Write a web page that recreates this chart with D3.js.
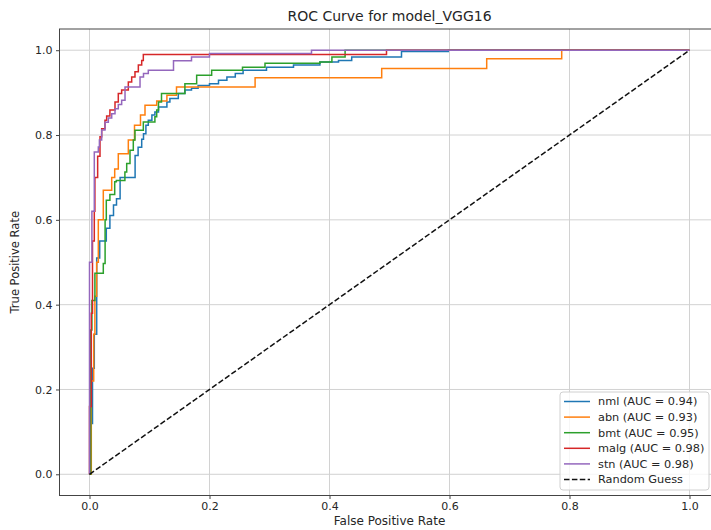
<!DOCTYPE html>
<html>
<head>
<meta charset="utf-8">
<script src="https://cdn.jsdelivr.net/npm/d3@7"></script>
<style>
  body { margin: 0; background: #fff; }
  svg { display: block; font-family: "DejaVu Sans", sans-serif; }
</style>
</head>
<body>
<div class="roc-plot"></div>
<script>
// step points: [fpr, tpr] where the curve jumps up to tpr
const nml = [[0, 0], [0.002, 0.12], [0.005, 0.25], [0.008, 0.33], [0.012, 0.51], [0.017, 0.55], [0.028, 0.58],
    [0.034, 0.61], [0.04, 0.635], [0.045, 0.65], [0.051, 0.70], [0.076, 0.752], [0.081, 0.771], [0.087, 0.79],
    [0.09, 0.803], [0.094, 0.823], [0.098, 0.835], [0.104, 0.847], [0.109, 0.854], [0.115, 0.866], [0.129, 0.878],
    [0.134, 0.886], [0.148, 0.898], [0.159, 0.906], [0.17, 0.91], [0.181, 0.917], [0.2, 0.921], [0.215, 0.929],
    [0.229, 0.937], [0.243, 0.945], [0.256, 0.953], [0.295, 0.96], [0.34, 0.965], [0.384, 0.972], [0.415, 0.976],
    [0.437, 0.984], [0.52, 0.997], [0.598, 1.0], [1.0, 1.0]];
const abn = [[0, 0], [0.003, 0.22], [0.007, 0.33], [0.009, 0.42], [0.012, 0.50], [0.0147, 0.60], [0.023, 0.67],
    [0.037, 0.70], [0.042, 0.72], [0.048, 0.756], [0.0647, 0.788], [0.075, 0.823], [0.085, 0.847], [0.0925, 0.870],
    [0.112, 0.88], [0.129, 0.894], [0.145, 0.913], [0.276, 0.935], [0.487, 0.957], [0.662, 0.98], [0.787, 1.0],
    [1.0, 1.0]];
const bmt = [[0, 0], [0.002, 0.34], [0.004, 0.41], [0.009, 0.474], [0.023, 0.497], [0.026, 0.60], [0.028, 0.646],
    [0.034, 0.66], [0.042, 0.69], [0.0447, 0.693], [0.059, 0.713], [0.062, 0.733], [0.0675, 0.764], [0.073, 0.788],
    [0.0758, 0.811], [0.0897, 0.831], [0.109, 0.843], [0.112, 0.859], [0.115, 0.878], [0.12, 0.898], [0.159, 0.921],
    [0.1786, 0.941], [0.2036, 0.953], [0.255, 0.96], [0.2925, 0.969], [0.384, 0.972], [0.404, 0.984],
    [0.426, 1.0], [1.0, 1.0]];
const malg = [[0, 0], [0, 0.16], [0.003, 0.38], [0.005, 0.55], [0.008, 0.62], [0.009, 0.70], [0.0136, 0.75],
    [0.0175, 0.796], [0.0203, 0.815], [0.0258, 0.835], [0.0286, 0.845], [0.034, 0.859], [0.0425, 0.878],
    [0.048, 0.898], [0.0536, 0.906], [0.0647, 0.925], [0.0703, 0.937], [0.0758, 0.949], [0.0814, 0.965],
    [0.087, 0.976], [0.0897, 0.99], [0.495, 1.0], [1.0, 1.0]];
const stn = [[0, 0], [0, 0.5], [0.004, 0.62], [0.008, 0.76], [0.0147, 0.772], [0.0165, 0.788], [0.0203, 0.812],
    [0.0258, 0.83], [0.0314, 0.84], [0.037, 0.85], [0.0425, 0.862], [0.048, 0.872], [0.0536, 0.882],
    [0.0592, 0.913], [0.0842, 0.937], [0.09, 0.945], [0.098, 0.953], [0.14, 0.975], [0.17, 0.984],
    [0.2, 0.992], [0.37, 1.0], [1.0, 1.0]];
const guess = [[0, 0], [1, 1]];

const classNames = ['nml', 'abn', 'bmt', 'malg', 'stn'];
const aucValues = [0.94, 0.93, 0.95, 0.98, 0.98];
const tickValues = [0, 0.2, 0.4, 0.6, 0.8, 1.0];
const colors = ['#1f77b4', '#ff7f0e', '#2ca02c', '#d62728', '#9467bd'];

const curves = [nml, abn, bmt, malg, stn];

const width = 711;
const height = 530;
const plotLeft = 59.5, plotRight = 719.5, plotTop = 29, plotBottom = 495.5;

const x = d3.scaleLinear().domain([-0.05, 1.05]).range([plotLeft, plotRight]);
const y = d3.scaleLinear().domain([-0.05, 1.05]).range([plotBottom, plotTop]);

const svg = d3.select('.roc-plot')
    .append('svg')
    .attr('width', width)
    .attr('height', height);

// grid
svg.append('g')
    .selectAll('line')
    .data(tickValues)
    .enter()
    .append('line')
    .attr('x1', d => x(d)).attr('x2', d => x(d))
    .attr('y1', plotTop).attr('y2', plotBottom)
    .attr('stroke', '#d2d2d2').attr('stroke-width', 1);
svg.append('g')
    .selectAll('line')
    .data(tickValues)
    .enter()
    .append('line')
    .attr('x1', plotLeft).attr('x2', plotRight)
    .attr('y1', d => y(d)).attr('y2', d => y(d))
    .attr('stroke', '#d2d2d2').attr('stroke-width', 1);

const line = d3.line()
    .x(d => x(d[0]))
    .y(d => y(d[1]))
    .curve(d3.curveStepAfter);

svg.append('g')
    .selectAll('path')
    .data(curves)
    .enter()
    .append('path')
    .attr('d', d => line(d))
    .attr('fill', 'none')
    .attr('stroke', (d, i) => colors[i])
    .attr('stroke-width', 1.5);

svg.append('path')
    .attr('d', d3.line().x(d => x(d[0])).y(d => y(d[1]))(guess))
    .attr('fill', 'none')
    .attr('stroke', '#111')
    .attr('stroke-width', 1.5)
    .attr('stroke-dasharray', '5.5,2.4');

// spines
svg.append('rect')
    .attr('x', plotLeft).attr('y', plotTop)
    .attr('width', plotRight - plotLeft).attr('height', plotBottom - plotTop)
    .attr('fill', 'none').attr('stroke', '#444').attr('stroke-width', 1);

const fmt = d3.format('.1f');
const xAxis = svg.append('g')
    .attr('transform', `translate(0,${plotBottom})`)
    .call(d3.axisBottom(x).tickValues(tickValues).tickFormat(fmt).tickSize(3.5).tickPadding(3.5));
const yAxis = svg.append('g')
    .attr('transform', `translate(${plotLeft},0)`)
    .call(d3.axisLeft(y).tickValues(tickValues).tickFormat(fmt).tickSize(3.5).tickPadding(3.5));
[xAxis, yAxis].forEach(a => {
    a.select('.domain').remove();
    a.selectAll('line').attr('stroke', '#444');
    a.selectAll('text')
        .attr('fill', '#262626')
        .attr('font-size', 11)
        .attr('font-family', '"DejaVu Sans", sans-serif');
});

svg.append('text')
    .attr('x', (plotLeft + plotRight) / 2)
    .attr('y', 21)
    .attr('text-anchor', 'middle')
    .attr('font-size', 14)
    .attr('fill', '#262626')
    .text('ROC Curve for model_VGG16');

svg.append('text')
    .attr('x', (plotLeft + plotRight) / 2)
    .attr('y', 525)
    .attr('text-anchor', 'middle')
    .attr('font-size', 12)
    .attr('fill', '#262626')
    .text('False Positive Rate');

svg.append('text')
    .attr('transform', `translate(19,${(plotTop + plotBottom) / 2}) rotate(-90)`)
    .attr('text-anchor', 'middle')
    .attr('font-size', 11.5)
    .attr('fill', '#262626')
    .text('True Positive Rate');

// legend
const legendItems = classNames.map((c, i) => ({
    label: `${c} (AUC = ${aucValues[i].toFixed(2)})`,
    color: colors[i],
    dash: null
}));
legendItems.push({ label: 'Random Guess', color: '#111', dash: '5.5,2.4' });

const legend = svg.append('g').attr('transform', 'translate(560,392)');
legend.append('rect')
    .attr('width', 149).attr('height', 98)
    .attr('rx', 3)
    .attr('fill', 'rgba(255,255,255,0.8)')
    .attr('stroke', '#d0d0d0');
const rows = legend.selectAll('g.row')
    .data(legendItems)
    .enter()
    .append('g')
    .attr('class', 'row')
    .attr('transform', (d, i) => `translate(0,${9.5 + i * 15.6})`);
rows.append('line')
    .attr('x1', 4).attr('x2', 30)
    .attr('stroke', d => d.color)
    .attr('stroke-width', 1.5)
    .attr('stroke-dasharray', d => d.dash);
rows.append('text')
    .attr('x', 38)
    .attr('dy', '0.35em')
    .attr('font-size', 11.3)
    .attr('fill', '#262626')
    .text(d => d.label);
</script>
</body>
</html>
